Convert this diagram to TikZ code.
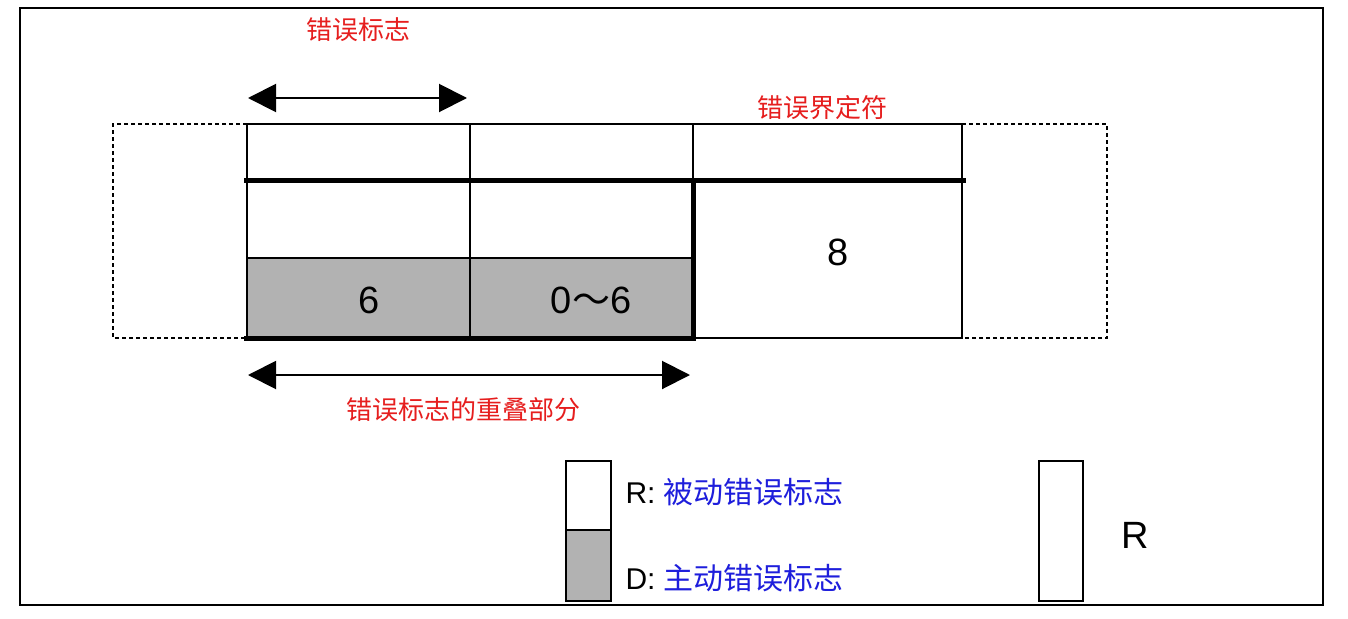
\documentclass[tikz,border=0pt]{standalone}
\usepackage{fontspec}
\setmainfont{Liberation Sans}
\newfontfamily\cjk{Noto Sans CJK SC}
\usetikzlibrary{arrows.meta}
\definecolor{myred}{RGB}{230,30,30}
\definecolor{myblue}{RGB}{30,30,220}
\definecolor{mygray}{RGB}{178,178,178}
\begin{document}
\begin{tikzpicture}[x=1pt,y=-1pt,
  thin/.style={draw=black,line width=1.6pt},
  thick/.style={draw=black,line width=5pt},
  dot/.style={draw=black,line width=1.8pt,dash pattern=on 4pt off 3pt},
  redlbl/.style={text=myred,font=\cjk\fontsize{26}{28}\selectfont},
  num/.style={font=\fontsize{38}{40}\selectfont},
  bigarrow/.style={line width=2pt,{Triangle[length=28pt,width=28pt]}-{Triangle[length=28pt,width=28pt]}}]
\useasboundingbox (0,0) rectangle (1348,618);
\fill[white] (0,0) rectangle (1348,618);
\draw[line width=1.4pt] (20,8) rectangle (1323,605);
% dotted boxes
\draw[dot] (247,124) -- (113,124) -- (113,338) -- (247,338);
\draw[dot] (962,124) -- (1107,124) -- (1107,338) -- (962,338);
% gray
\fill[mygray] (247,258) rectangle (693,338);
\draw[thin] (247,258) -- (693,258);
% top row
\draw[thin] (247,124) rectangle (962,180);
\draw[thin] (470,124) -- (470,338);
\draw[thin] (693,124) -- (693,180);
\draw[thin] (247,180) -- (247,338);
\draw[thin] (693,338) -- (962,338) -- (962,124);
\draw[thick] (244,180) -- (966,180);
\draw[thick] (693,180) -- (693,341);
\draw[thick] (244,338) -- (696,338);
% texts
\node[num] (n8) at (838,252) {8};
\node[num] (n6) at (369,300) {6};
\node[num] (n06) at (591,300) {0{\cjk～}6};
\coordinate (a1) at (248,98); \coordinate (a2) at (467,98);
\draw[bigarrow] (a1) -- (a2);
\coordinate (b1) at (248,375); \coordinate (b2) at (690,375);
\draw[bigarrow] (b1) -- (b2);
\node[redlbl] (l1) at (358,30) {错误标志};
\node[redlbl] (l2) at (822,108) {错误界定符};
\node[redlbl] (l3) at (463,410) {错误标志的重叠部分};
% legend
\fill[mygray] (566,530) rectangle (611,601);
\draw[thin] (566,461) rectangle (611,601);
\draw[thin] (566,530) -- (611,530);
\node[anchor=west,font=\fontsize{30}{32}\selectfont] (r) at (622,492) {R: \textcolor{myblue}{\cjk 被动错误标志}};
\node[anchor=west,font=\fontsize{30}{32}\selectfont] (d) at (622,578) {D: \textcolor{myblue}{\cjk 主动错误标志}};
\draw[thin] (1039,461) rectangle (1083,601);
\node[num] (rr) at (1135,535) {R};
\end{tikzpicture}
\end{document}
